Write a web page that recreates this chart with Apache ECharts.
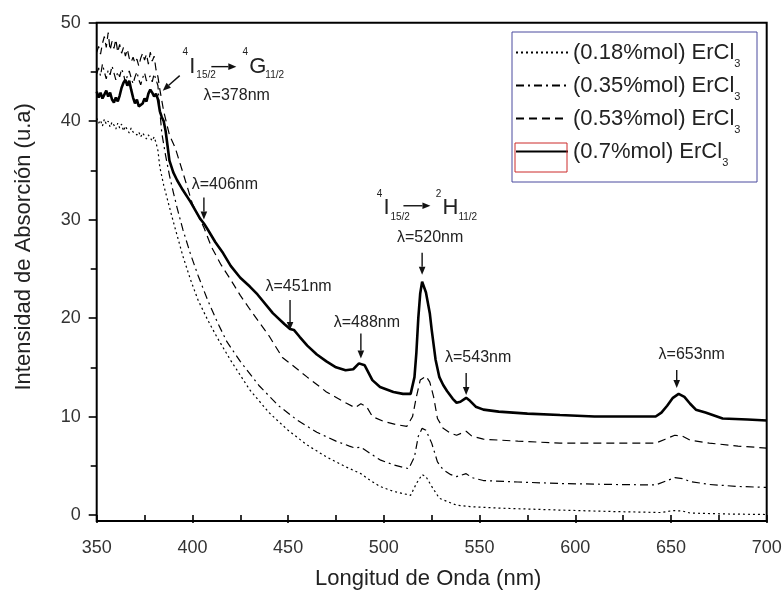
<!DOCTYPE html>
<html>
<head>
<meta charset="utf-8">
<script src="https://cdn.jsdelivr.net/npm/echarts@6/dist/echarts.min.js"></script>
<style>
  html, body { margin: 0; padding: 0; background: #fff; }
  #chart { width: 782px; height: 592px; }
</style>
</head>
<body>
<div id="chart"></div>
<script>
// series names (legend), subscript "3" added by the formatter
const seriesNames = ['(0.18%mol) ErCl', '(0.35%mol) ErCl', '(0.53%mol) ErCl', '(0.7%mol) ErCl'];

// noisy saturated part 350-382 nm, 1 nm steps
const wlNoise = [350, 351, 352, 353, 354, 355, 356, 357, 358, 359, 360, 361, 362, 363, 364, 365, 366,
  367, 368, 369, 370, 371, 372, 373, 374, 375, 376, 377, 378, 379, 380, 381, 382];

// 0.18 %mol
const abs018Noise = [40.3, 39.8, 40.1, 39.5, 40.2, 39.7, 40.0, 39.4, 39.9, 39.6, 39.2, 39.8, 39.3, 39.7, 39.0, 39.5, 39.1,
  38.8, 39.3, 38.9, 39.1, 38.6, 38.9, 38.4, 38.8, 38.5, 38.2, 38.6, 38.3, 38.0, 38.4, 37.8, 37.0];
const wl018 = [383, 385, 387, 390, 392, 395, 399, 403, 408, 413, 420, 430, 440, 450, 460, 470, 480, 488, 493, 498,
  505, 514, 517, 520, 522, 525, 529, 534, 538, 545, 560, 592, 620, 645, 651, 656, 660, 680, 700];
const abs018 = [35.3, 33.5, 32.0, 29.8, 28.4, 26.3, 23.9, 21.8, 19.8, 18.0, 15.7, 12.7, 10.4, 8.6, 7.1, 5.9, 4.9, 4.2, 3.5, 2.9,
  2.4, 2.0, 3.2, 4.1, 3.9, 2.9, 1.7, 1.3, 1.0, 0.85, 0.7, 0.5, 0.35, 0.25, 0.45, 0.4, 0.2, 0.1, 0.05];

// 0.35 %mol
const abs035Noise = [44.8, 45.4, 44.6, 45.8, 45.0, 44.3, 45.2, 44.7, 45.6, 44.9, 44.2, 45.0, 44.5, 45.3, 44.8, 43.9, 44.6,
  45.1, 44.4, 43.8, 44.5, 45.0, 44.2, 43.7, 44.4, 44.9, 44.1, 43.9, 44.6, 44.0, 44.8, 44.2, 43.6];
const wl035 = [383, 384, 386, 388, 390, 392, 395, 399, 403, 408, 413, 418, 425, 435, 445, 455, 465, 475, 482, 485,
  488, 491, 498, 505, 513, 516, 518, 520, 522, 525, 528, 531, 535, 538, 543, 546, 552, 570, 592, 620,
  642, 648, 652, 656, 660, 670, 685, 700];
const abs035 = [41.0, 38.8, 36.5, 34.5, 32.8, 31.2, 29.0, 26.5, 24.3, 21.8, 19.6, 17.6, 15.6, 13.1, 11.1, 9.6, 8.4, 7.5, 7.0, 6.8,
  6.9, 6.5, 5.6, 5.1, 4.7, 5.9, 8.0, 8.8, 8.6, 7.3, 5.4, 4.6, 4.1, 3.9, 4.2, 3.8, 3.5, 3.35, 3.2, 3.1,
  3.05, 3.5, 3.8, 3.7, 3.4, 3.1, 2.9, 2.8];

// 0.53 %mol
const abs053Noise = [47.0, 47.6, 46.8, 47.9, 48.6, 47.5, 49.0, 47.2, 48.1, 47.4, 48.3, 47.0, 47.8, 46.9, 47.5, 46.6, 47.3,
  46.4, 46.0, 46.5, 45.9, 46.3, 45.6, 46.4, 46.9, 46.2, 46.8, 45.8, 47.0, 46.1, 46.6, 45.2, 44.5];
const wl053 = [383, 385, 388, 391, 395, 400, 406, 410, 415, 420, 425, 430, 440, 447, 451, 460, 470, 480, 485, 488,
  491, 494, 500, 506, 512, 515, 517, 519, 522, 524, 526, 528, 531, 535, 538, 543, 546, 552, 570, 592,
  620, 642, 647, 652, 656, 660, 670, 685, 700];
const abs053 = [43.2, 41.0, 38.6, 37.3, 34.8, 31.6, 29.2, 27.2, 25.4, 23.9, 22.3, 20.9, 18.2, 16.0, 15.4, 14.0, 12.5, 11.4, 10.9, 11.3,
  11.0, 10.0, 9.5, 9.2, 9.0, 10.0, 12.0, 13.7, 14.1, 13.5, 12.0, 9.8, 8.8, 8.3, 8.1, 8.5, 8.0, 7.7, 7.5, 7.3,
  7.3, 7.3, 7.7, 8.1, 8.0, 7.6, 7.3, 7.0, 6.8];

// 0.7 %mol
const abs07Noise = [43.0, 42.4, 42.9, 42.3, 42.7, 43.1, 42.5, 42.9, 42.2, 41.9, 42.4, 42.0, 42.6, 43.4, 43.9, 44.2, 43.6,
  44.1, 43.2, 42.4, 41.8, 42.2, 41.5, 41.3, 41.8, 42.3, 42.0, 42.8, 43.2, 42.9, 42.5, 42.8, 42.2];
const wl07 = [383, 384, 385, 386, 387, 388, 390, 392, 395, 399, 404, 406, 408, 412, 416, 420, 425, 430, 434, 442,
  448, 451, 453, 456, 460, 465, 470, 475, 480, 484, 487, 488, 490, 494, 498, 505, 510, 514, 516, 517,
  518, 519, 520, 521, 522, 524, 525, 527, 529, 531, 533, 536, 538, 540, 543, 545, 548, 552, 560, 575,
  592, 610, 625, 642, 645, 648, 651, 654, 657, 660, 663, 668, 677, 690, 700];
const abs07 = [41.0, 40.4, 40.0, 39.0, 37.5, 36.0, 34.8, 34.0, 33.0, 31.8, 30.1, 29.6, 29.0, 27.7, 26.6, 25.3, 24.1, 23.2, 22.4, 20.5,
  19.4, 18.9, 18.8, 18.1, 17.2, 16.3, 15.6, 15.0, 14.7, 14.8, 15.4, 15.6, 15.2, 13.7, 13.0, 12.5, 12.3, 12.3, 14.0, 16.5,
  20.0, 22.5, 23.7, 23.5, 22.6, 20.5, 18.8, 15.8, 14.0, 13.2, 12.6, 11.8, 11.4, 11.5, 11.9, 11.6, 11.0, 10.7, 10.5, 10.3,
  10.15, 10.0, 10.0, 10.0, 10.4, 11.1, 11.9, 12.3, 12.0, 11.3, 10.7, 10.4, 9.8, 9.7, 9.6];

// peak labels: wavelength, where the arrow tip sits (absorbance), text
const peakNm = [406, 451, 488, 520, 543, 653];
const peakTip = [30.0, 18.8, 15.9, 24.4, 12.2, 12.9];
const peakText = ['λ=406nm', 'λ=451nm', 'λ=488nm', 'λ=520nm', 'λ=543nm', 'λ=653nm'];

const FONT = '"Liberation Sans", Arial, Helvetica, sans-serif';

const toPairs = (xs, ys) => xs.map((x, i) => [x, ys[i]]);

const chart = echarts.init(document.getElementById('chart'));

const lineSeries = (name, xs, ys, width, type, z) => ({
  name: name,
  type: 'line',
  data: toPairs(xs, ys),
  showSymbol: false,
  symbol: 'none',
  silent: true,
  z: z,
  lineStyle: { color: '#000', width: width, type: type },
  itemStyle: { color: '#000' },
  emphasis: { disabled: true }
});

chart.setOption({
  animation: false,
  backgroundColor: '#fff',
  grid: { left: 96.7, right: 15.3, top: 22.7, bottom: 77, outerBoundsMode: 'none' },
  xAxis: {
    type: 'value',
    min: 350,
    max: 700,
    interval: 50,
    offset: 6,
    name: 'Longitud de Onda (nm)',
    nameLocation: 'middle',
    nameGap: 47,
    nameTextStyle: { fontFamily: FONT, fontSize: 22, color: '#222', padding: [0, 7, 0, 0] },
    axisLine: { show: false },
    axisTick: { show: true, inside: false, length: 8, lineStyle: { color: '#000', width: 1.6 } },
    minorTick: { show: true, splitNumber: 2, length: 6, lineStyle: { color: '#000', width: 1.6 } },
    axisLabel: { fontFamily: FONT, fontSize: 18, color: '#333', margin: 18 },
    splitLine: { show: false }
  },
  yAxis: {
    type: 'value',
    min: 0,
    max: 50,
    interval: 10,
    name: 'Intensidad de Absorción (u.a)',
    nameLocation: 'middle',
    nameGap: 62,
    nameTextStyle: { fontFamily: FONT, fontSize: 22, color: '#222', padding: [0, 0, 0, 44] },
    axisLine: { show: false },
    axisTick: { show: true, inside: false, length: 8, lineStyle: { color: '#000', width: 1.6 } },
    minorTick: { show: true, splitNumber: 2, length: 6, lineStyle: { color: '#000', width: 1.6 } },
    axisLabel: { fontFamily: FONT, fontSize: 18, color: '#333', margin: 16 },
    splitLine: { show: false }
  },
  legend: {
    orient: 'vertical',
    left: 512,
    top: 32,
    padding: [4, 4, 4, 3],
    itemGap: 0,
    itemWidth: 52,
    itemHeight: 14,
    align: 'left',
    selectedMode: false,
    data: seriesNames,
    itemStyle: { opacity: 0, borderWidth: 0 },
    formatter: name => name + '{s|3}',
    textStyle: {
      fontFamily: FONT,
      fontSize: 22,
      color: '#222',
      lineHeight: 33,
      rich: { s: { fontFamily: FONT, fontSize: 11, lineHeight: 11, verticalAlign: 'bottom', color: '#222' } }
    }
  },
  series: [
    lineSeries(seriesNames[0], wlNoise.concat(wl018), abs018Noise.concat(abs018), 1.2, [2, 3], 2),
    lineSeries(seriesNames[1], wlNoise.concat(wl035), abs035Noise.concat(abs035), 1.2, [8, 4, 2, 4], 3),
    lineSeries(seriesNames[2], wlNoise.concat(wl053), abs053Noise.concat(abs053), 1.2, [8, 5], 4),
    lineSeries(seriesNames[3], wlNoise.concat(wl07), abs07Noise.concat(abs07), 2.6, 'solid', 5)
  ]
});

// ---- decorations: frame, legend box, arrows and labels ----
const px = (x, y) => chart.convertToPixel({ gridIndex: 0 }, [x, y]);

function arrow(x1, y1, x2, y2) {
  const ang = Math.atan2(y2 - y1, x2 - x1);
  const hl = 8, hw = 3.3;
  const bx = x2 - hl * Math.cos(ang), by = y2 - hl * Math.sin(ang);
  const nx = -Math.sin(ang) * hw, ny = Math.cos(ang) * hw;
  return [
    { type: 'line', z: 100, silent: true, shape: { x1: x1, y1: y1, x2: bx, y2: by }, style: { stroke: '#111', lineWidth: 1.4 } },
    { type: 'polygon', z: 100, silent: true, shape: { points: [[x2, y2], [bx + nx, by + ny], [bx - nx, by - ny]] }, style: { fill: '#111' } }
  ];
}

function txt(x, y, text, size, align) {
  return {
    type: 'text', z: 100, silent: true, x: x, y: y,
    style: { text: text, fontFamily: FONT, fontSize: size, fill: '#222', align: align || 'center', verticalAlign: 'middle' }
  };
}

// term symbol like 4I15/2 drawn from pieces, anchored at the big letter's left edge
function term(x, y, sup, big, sub) {
  return [
    txt(x - 4, y - 14.5, sup, 10, 'center'),
    txt(x, y, big, 22, 'left'),
    txt(x + (big === 'I' ? 7 : 16), y + 9, sub, 10, 'left')
  ];
}

function buildGraphics() {
  const g = [];
  const tl = px(350, 50), br = px(700, 0);
  g.push({ type: 'rect', z: 50, silent: true, shape: { x: tl[0], y: tl[1], width: br[0] - tl[0], height: br[1] - tl[1] + 6 },
    style: { fill: 'none', stroke: '#000', lineWidth: 2 } });

  // legend frame and the red selection box
  g.push({ type: 'rect', z: 50, silent: true, shape: { x: 512, y: 32, width: 245, height: 150 },
    style: { fill: 'none', stroke: '#4a4a9e', lineWidth: 1 } });
  g.push({ type: 'rect', z: 50, silent: true, shape: { x: 515, y: 143, width: 52, height: 29 },
    style: { fill: 'none', stroke: '#cc2a2a', lineWidth: 1 } });

  // peak arrows
  const textOff = [[21, -35], [8.5, -43], [6, -36], [8, -37], [12, -37], [15, -33]];
  const arrowLen = [22, 30, 25, 22, 22, 18];
  peakNm.forEach((nm, i) => {
    const p = px(nm, peakTip[i]);
    g.push(...arrow(p[0], p[1] - arrowLen[i], p[0], p[1]));
    g.push(txt(p[0] + textOff[i][0], p[1] + textOff[i][1], peakText[i], 16));
  });

  // 4I15/2 -> 2H11/2 above the 520 nm peak
  const a = px(520, 24.4);
  g.push(...term(a[0] - 38.7, a[1] - 66.5, '4', 'I', '15/2'));
  g.push(...arrow(a[0] - 18.7, a[1] - 69, a[0] + 8.3, a[1] - 69));
  g.push(...term(a[0] + 20.3, a[1] - 66.5, '2', 'H', '11/2'));

  // 4I15/2 -> 4G11/2 with pointer to the edge at ~378 nm
  const b = px(384.5, 43.1);
  g.push(...arrow(b[0] + 17, b[1] - 15, b[0], b[1]));
  g.push(...term(b[0] + 26.6, b[1] - 24, '4', 'I', '15/2'));
  g.push(...arrow(b[0] + 48.6, b[1] - 24, b[0] + 73.6, b[1] - 24));
  g.push(...term(b[0] + 86.6, b[1] - 24, '4', 'G', '11/2'));
  g.push(txt(b[0] + 74, b[1] + 4.5, 'λ=378nm', 16));
  return g;
}

chart.setOption({ graphic: buildGraphics() });
</script>
</body>
</html>
